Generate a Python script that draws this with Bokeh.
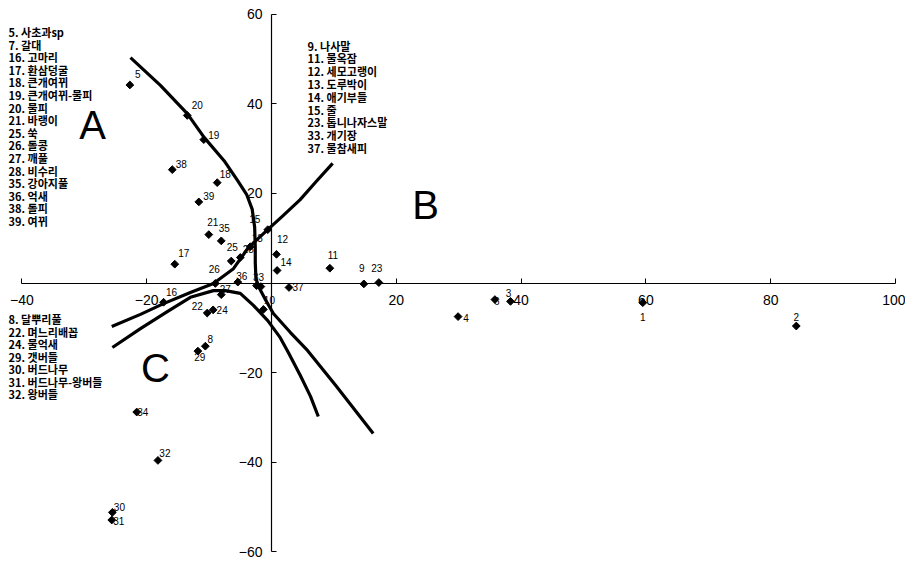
from bokeh.plotting import figure
from bokeh.models import FixedTicker, ColumnDataSource
from bokeh.core.properties import value
from bokeh.embed import file_html
from bokeh.resources import INLINE

# ---------------- data ----------------
point_ids = list(range(1, 40))
point_x = [59.5, 84.1, 38.3, 29.9, -22.7, 35.8, -1.7, -10.6, 14.8, -1.3,
           9.35, 0.8, -3.4, 0.9, -0.6, -17.3, -15.5, -8.7, -10.85, -13.5,
           -10.05, -10.3, 17.2, -9.35, -6.45, -9.0, -8.05, -5.0, -11.8, -25.5,
           -25.6, -18.2, -2.4, -21.6, -8.05, -5.4, 2.8, -15.9, -11.65]
point_y = [-4.4, -9.6, -4.1, -7.5, 44.2, -3.7, -0.8, -14.1, -0.2, -5.9,
           3.3, 6.4, 8.1, 2.8, 11.9, -4.3, 4.2, 22.4, 32.0, 37.4,
           10.8, -6.7, 0.1, -6.0, 4.9, -0.1, -2.6, 5.7, -15.2, -51.2,
           -52.9, -39.6, -0.6, -28.8, 9.4, 0.2, -1.0, 25.3, 18.1]

curve_a_x = [-22.6, -17.8, -13.5, -10.8, -7.6, -5.45, -4.0, -3.1, -2.7, -2.6,
             -2.6, -2.5, -2.0, -0.9, 0.3, 3.0, 5.8, 10.3, 16.3]
curve_a_y = [50.3, 44.1, 37.8, 32.5, 27.3, 22.9, 19.8, 16.5, 12.5, 8.0,
             4.6, 1.0, -1.0, -3.9, -6.8, -11.0, -15.1, -22.9, -33.6]
curve_b_x = [-25.6, -21.0, -17.3, -13.0, -9.3, -6.1, -3.7, -0.6, 1.9, 4.6, 7.2, 9.8]
curve_b_y = [-9.7, -7.0, -4.6, -2.1, -0.1, 3.2, 7.9, 11.9, 15.1, 18.6, 22.7, 26.7]
curve_c_x = [-25.5, -21.0, -16.7, -13.0, -9.3, -7.4, -5.0, -2.9, -0.6, 1.4,
             2.7, 4.6, 6.25, 7.5]
curve_c_y = [-14.4, -10.2, -6.4, -3.2, -1.7, -1.7, -2.3, -5.0, -8.4, -12.2,
             -15.5, -20.6, -25.3, -29.8]

x_ticks = [-40, -20, 20, 40, 60, 80, 100]
y_ticks = [-60, -40, -20, 20, 40, 60]

group_a_labels = ["5. 사초과sp", "7. 갈대", "16. 고마리", "17. 환삼덩굴", "18. 큰개여뀌",
                  "19. 큰개여뀌-물피", "20. 물피", "21. 바랭이", "25. 쑥", "26. 돌콩",
                  "27. 깨풀", "28. 비수리", "35. 강아지풀", "36. 억새", "38. 돌피", "39. 여뀌"]
group_b_labels = ["9. 나사말", "11. 물옥잠", "12. 세모고랭이", "13. 도루박이", "14. 애기부들",
                  "15. 줄", "23. 톱니나자스말", "33. 개기장", "37. 물참새피"]
group_c_labels = ["8. 달뿌리풀", "22. 며느리배꼽", "24. 물억새", "29. 갯버들", "30. 버드나무",
                  "31. 버드나무-왕버들", "32. 왕버들"]
group_names = ["A", "B", "C"]

# ---------------- layout / style ----------------
W, H = 905, 559
SX, SY = 6.24, 4.48          # px per data unit
ORIGIN_PX = (271, 282.5)     # page position of (0, 0)
X0 = -ORIGIN_PX[0] / SX
X1 = X0 + W / SX
Y1 = ORIGIN_PX[1] / SY
Y0 = Y1 - H / SY

def px2x(px):
    return X0 + px / SX

def py2y(py):
    return Y1 - py / SY

# label offsets (screen px) of point numbers relative to their markers
label_dx = {1: 0, 2: 0, 3: -2, 4: 8, 5: 8, 6: 2, 8: 5, 9: -2, 10: 6, 11: 3, 12: 6, 13: 7,
            14: 9, 15: -13, 16: 8, 17: 9, 18: 8, 19: 10, 20: 10, 21: 4, 22: -10, 23: -2,
            24: 9, 25: 1, 26: -1, 27: 4, 28: 8, 29: 2, 30: 7, 31: 7, 32: 7, 33: 2, 34: 6,
            35: 3, 36: 4, 37: 9, 38: 9, 39: 10}
label_dy = {1: 14, 2: -9, 3: -8, 4: 1, 5: -11, 6: 1, 8: -7, 9: -16, 10: -9, 11: -13, 12: -15,
            13: -9, 14: -8, 15: -11, 16: -10, 17: -11, 18: -9, 19: -5, 20: -10, 21: -13,
            22: -7, 23: -15, 24: 0, 25: -14, 26: -14, 27: -6, 28: -8, 29: 6, 30: -5, 31: 1,
            32: -7, 33: -9, 34: 0, 35: -13, 36: -6, 37: 0, 38: -6, 39: -6}

p = figure(width=W, height=H, x_range=(X0, X1), y_range=(Y0, Y1),
           output_backend="svg", toolbar_location=None, min_border=0)
p.outline_line_color = None
p.grid.visible = False
p.background_fill_color = "white"

axis_font = "Liberation Sans"
p.xaxis.fixed_location = 0
p.yaxis.fixed_location = 0
p.xaxis.ticker = FixedTicker(ticks=x_ticks, minor_ticks=[])
p.yaxis.ticker = FixedTicker(ticks=y_ticks, minor_ticks=[])
p.xaxis.bounds = (-40, 100)
p.yaxis.bounds = (-60, 60)
for ax in (p.xaxis, p.yaxis):
    ax.axis_line_color = "black"
    ax.axis_line_width = 1.2
    ax.major_tick_in = 5
    ax.major_tick_out = 0
    ax.major_tick_line_color = "black"
    ax.minor_tick_line_color = None
    ax.major_label_text_font = axis_font
    ax.major_label_text_font_size = "14px"
    ax.major_label_text_color = "black"
p.xaxis.major_label_standoff = 12
p.yaxis.major_label_standoff = 9

# curves
for cx, cy in ((curve_a_x, curve_a_y), (curve_b_x, curve_b_y), (curve_c_x, curve_c_y)):
    p.line(cx, cy, line_color="black", line_width=3.2, line_join="round")

# points (rhombus markers)
p.scatter(point_x, point_y, marker="square", angle=0.785398, size=5.5,
          fill_color="black", line_color="black")

lab_ids = [i for i in point_ids if i in label_dx]
src = ColumnDataSource(dict(
    x=[point_x[i - 1] for i in lab_ids],
    y=[point_y[i - 1] for i in lab_ids],
    t=[str(i) for i in lab_ids],
    dx=[label_dx[i] for i in lab_ids],
    dy=[label_dy[i] for i in lab_ids],
))
p.text(x="x", y="y", text="t", x_offset="dx", y_offset="dy", source=src,
       text_font=value("Liberation Sans"), text_font_size="10px",
       text_align="center", text_baseline="middle", text_color="black")

# group member lists
def draw_list(labels, px, py0, step):
    p.text(x=[px2x(px)] * len(labels),
           y=[py2y(py0 + k * step) for k in range(len(labels))],
           text=labels, text_font=value("Noto Sans CJK KR"), text_font_size="11px",
           text_font_style="bold", text_align="left", text_baseline="middle",
           text_color="black")

draw_list(group_a_labels, 8, 31.5, 12.6)
draw_list(group_b_labels, 307, 45, 12.8)
draw_list(group_c_labels, 8, 318.5, 12.5)

# big region letters
p.text(x=[px2x(92), px2x(425), px2x(155)], y=[py2y(124), py2y(204), py2y(367)],
       text=group_names, text_font=value("Liberation Sans"), text_font_size="40px",
       text_align="center", text_baseline="middle", text_color="black")

open("out.html", "w").write(file_html(p, INLINE))
